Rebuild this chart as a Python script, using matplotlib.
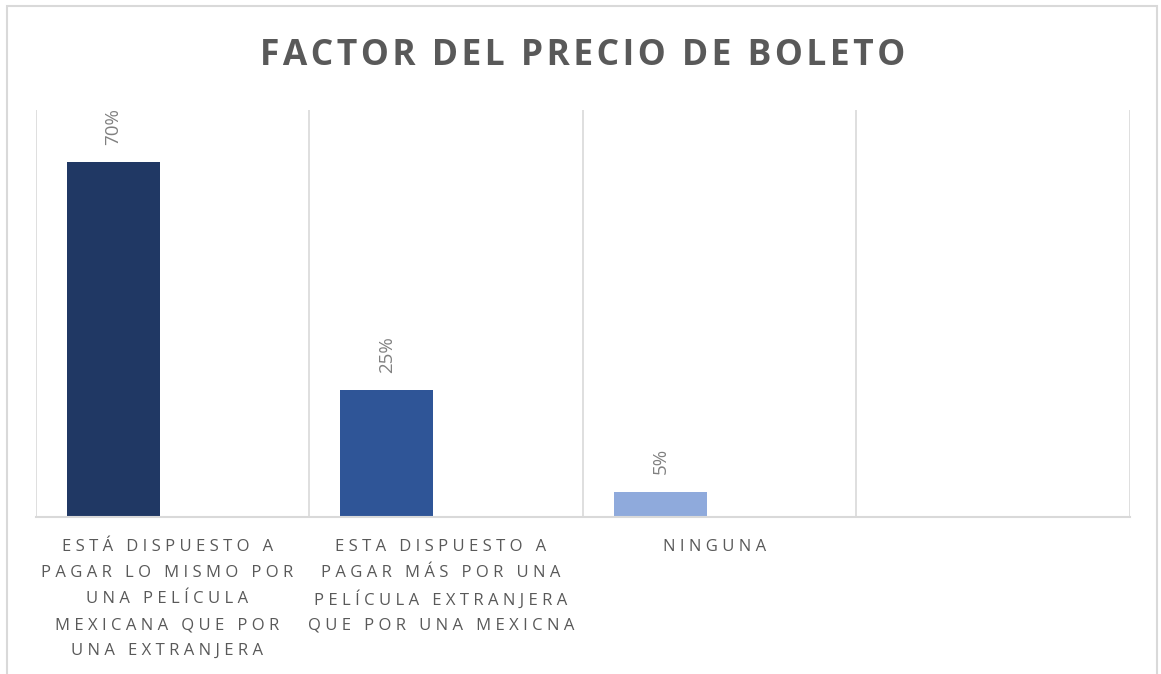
import matplotlib.pyplot as plt
from matplotlib.patches import Rectangle

plt.rcParams['font.family'] = ['Open Sans', 'DejaVu Sans']

categories = ["ESTÁ DISPUESTO A\nPAGAR LO MISMO POR\nUNA PELÍCULA\nMEXICANA QUE POR\nUNA EXTRANJERA",
              "ESTA DISPUESTO A\nPAGAR MÁS POR UNA\nPELÍCULA EXTRANJERA\nQUE POR UNA MEXICNA",
              "NINGUNA",
              ""]
values = [70, 25, 5, None]
labels = ["70%", "25%", "5%", ""]
colors = ["#203864", "#2F5597", "#8FAADC", "none"]
title = "FACTOR DEL PRECIO DE BOLETO"

def spaced(s, sep="\u2009"):
    # fake letter spacing
    return sep.join(s)

fig = plt.figure(figsize=(11.61, 6.74), dpi=100)
ax = fig.add_axes([0.031, 0.2329, 0.9423, 0.6039])
ax_h = 0.6039 * 674  # axes height in px

grey = "#d9d9d9"
for i, (v, c, lab) in enumerate(zip(values, colors, labels)):
    if v is None:
        continue
    ax.bar(i + 0.283, v, width=0.34, color=c)
    ax.text(i + 0.283, v + 3.4, lab, rotation=90, ha="center", va="bottom",
            fontsize=13.5, color="#808080")

ax.set_xlim(0, 4)
ax.set_ylim(0, 80.3)
for x in range(5):
    ax.axvline(x, color=grey, lw=1.2, zorder=0)
for s in ["top", "right", "left"]:
    ax.spines[s].set_visible(False)
ax.spines["bottom"].set_color(grey)
ax.spines["bottom"].set_linewidth(1.5)
ax.set_yticks([])
ax.set_xticks([])

# category labels, one line at a time so the spacing stays even
for i, cat in enumerate(categories):
    for j, line in enumerate(cat.split("\n")):
        ax.text(i + 0.48, -(30 + 26 * j) / ax_h, spaced(line, "\u2009\u200a"),
                transform=ax.get_xaxis_transform(), ha="center", va="center",
                fontsize=12, color="#595959")

fig.text(0.5015, 0.917, spaced(title, "\u200a"), ha="center", va="center",
         fontsize=25.5, fontweight="bold", color="#595959")

fig.patches.append(Rectangle((0.006, -0.05), 0.9906, 1.041, transform=fig.transFigure,
                             fill=False, edgecolor=grey, lw=1.5))

fig.savefig("out.png", dpi=100)
